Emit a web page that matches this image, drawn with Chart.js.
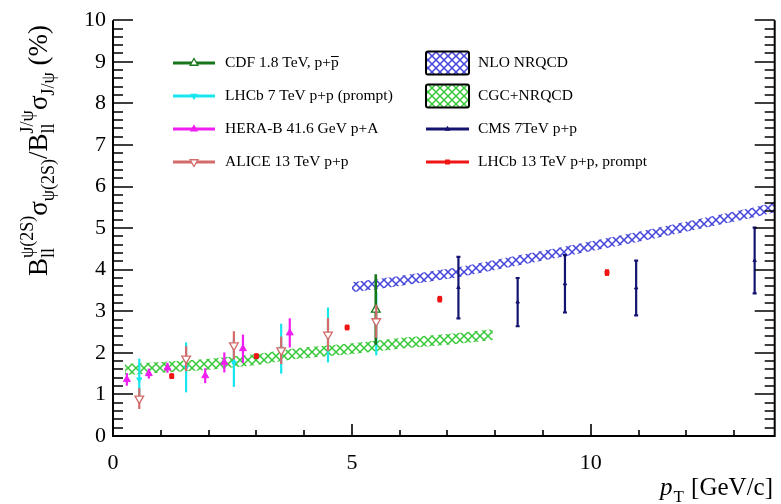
<!DOCTYPE html>
<html><head><meta charset="utf-8">
<script src="https://cdn.jsdelivr.net/npm/chart.js@4/dist/chart.umd.min.js"></script>
<style>html,body{margin:0;padding:0;background:#fff;}#wrap{width:781px;height:504px;}</style>
</head><body><div id="wrap"><canvas id="c" width="781" height="504"></canvas></div>
<script>
// ---- data ----
const xTickLabels = [0, 5, 10];
const yTickLabels = [0, 1, 2, 3, 4, 5, 6, 7, 8, 9, 10];

const cdfX = [5.5];
const cdfY = [3.04];
const cdfErr = [0.85];

const lhcb7X = [0.55, 1.53, 2.53, 3.52, 4.5, 5.51];
const lhcb7Y = [1.36, 1.65, 1.76, 2.1, 2.43, 2.7];
const lhcb7Err = [0.5, 0.6, 0.58, 0.6, 0.66, 0.76];

const heraX = [0.29, 0.75, 1.14, 1.93, 2.33, 2.72, 3.70];
const heraY = [1.36, 1.50, 1.64, 1.45, 1.77, 2.10, 2.48];
const heraErr = [0.15, 0.12, 0.12, 0.18, 0.24, 0.34, 0.35];

const aliceX = [0.55, 1.53, 2.53, 3.52, 4.5, 5.51];
const aliceY = [0.9, 1.86, 2.18, 2.06, 2.44, 2.76];
const aliceErr = [0.25, 0.3, 0.34, 0.33, 0.4, 0.4];

const cmsX = [7.23, 8.47, 9.46, 10.95, 13.43];
const cmsY = [3.57, 3.22, 3.66, 3.56, 4.22];
const cmsErr = [0.74, 0.58, 0.69, 0.66, 0.79];

const lhcb13X = [1.23, 3.0, 4.9, 6.84, 10.34];
const lhcb13Y = [1.44, 1.92, 2.61, 3.29, 3.93];
const lhcb13Err = [0.07, 0.07, 0.07, 0.08, 0.08];

const nloX = [5.0, 5.82, 7.23, 8.47, 9.46, 10.95, 13.43, 13.85];
const nloLow = [3.46, 3.58, 3.82, 4.10, 4.32, 4.66, 5.26, 5.38];
const nloHigh = [3.70, 3.82, 4.06, 4.34, 4.56, 4.90, 5.50, 5.62];

const cgcX = [0.25, 0.99, 1.97, 3.02, 3.82, 5.01, 6.1, 7.08, 7.95];
const cgcLow = [1.47, 1.52, 1.59, 1.71, 1.85, 1.97, 2.11, 2.20, 2.31];
const cgcHigh = [1.73, 1.78, 1.85, 1.97, 2.11, 2.23, 2.37, 2.46, 2.57];

const legendLeft = ['CDF 1.8 TeV, p+p', 'LHCb 7 TeV p+p (prompt)', 'HERA-B 41.6 GeV p+A', 'ALICE 13 TeV p+p'];
const legendRight = ['NLO NRQCD', 'CGC+NRQCD', 'CMS 7TeV p+p', 'LHCb 13 TeV p+p, prompt'];

// ---- colours ----
const C_CDF = '#16761a', C_LHCB7 = '#19e6ee', C_HERA = '#f01ef0', C_ALICE = '#d46a6a',
      C_CMS = '#141470', C_LHCB13 = '#f01414', C_NLO = '#4444d8', C_CGC = '#36c836';

function hatch(color) {
  const c = document.createElement('canvas'); c.width = 8; c.height = 8;
  const g = c.getContext('2d'); g.strokeStyle = color; g.lineWidth = 1.5;
  g.beginPath(); g.moveTo(0, 0); g.lineTo(8, 8); g.moveTo(8, 0); g.lineTo(0, 8); g.stroke();
  return g.createPattern(c, 'repeat');
}
const P_NLO = hatch(C_NLO), P_CGC = hatch(C_CGC);

const pts = (xs, ys) => xs.map((x, i) => ({x, y: ys[i]}));

function pointSet(label, xs, ys, err, color, style, r, rot, open, ew, cap, order) {
  return {type: 'scatter', label, data: pts(xs, ys), err, errColor: color, errWidth: ew, cap: cap || 0,
    showLine: false, pointStyle: style, pointRadius: r, pointRotation: rot,
    pointBackgroundColor: open ? '#ffffff' : color, pointBorderColor: color, pointBorderWidth: open ? 1.3 : 1,
    borderColor: color, backgroundColor: color, order};
}

const datasets = [
  pointSet('LHCb 13', lhcb13X, lhcb13Y, lhcb13Err, C_LHCB13, 'rect', 2.8, 0, false, 4, 0, 1),
  pointSet('CMS', cmsX, cmsY, cmsErr, C_CMS, 'triangle', 2, 0, false, 2.2, 2, 2),
  pointSet('ALICE', aliceX, aliceY, aliceErr, C_ALICE, 'triangle', 5, 180, true, 2.2, 0, 3),
  pointSet('CDF', cdfX, cdfY, cdfErr, C_CDF, 'triangle', 5, 0, true, 2.6, 0, 4),
  pointSet('HERA-B', heraX, heraY, heraErr, C_HERA, 'triangle', 4, 0, false, 2.2, 0, 5),
  pointSet('LHCb 7', lhcb7X, lhcb7Y, lhcb7Err, C_LHCB7, 'triangle', 3, 180, false, 2.2, 0, 6),
  {type: 'line', label: 'nloLow', data: pts(nloX, nloLow), borderWidth: 0, pointRadius: 0, fill: false, order: 10, borderColor: 'rgba(0,0,0,0)'},
  {type: 'line', label: 'nloHigh', data: pts(nloX, nloHigh), borderWidth: 0, pointRadius: 0, fill: '-1', backgroundColor: P_NLO, order: 10, borderColor: 'rgba(0,0,0,0)'},
  {type: 'line', label: 'cgcLow', data: pts(cgcX, cgcLow), borderWidth: 0, pointRadius: 0, fill: false, order: 11, borderColor: 'rgba(0,0,0,0)'},
  {type: 'line', label: 'cgcHigh', data: pts(cgcX, cgcHigh), borderWidth: 0, pointRadius: 0, fill: '-1', backgroundColor: P_CGC, order: 11, borderColor: 'rgba(0,0,0,0)'}
];

const errPlugin = {
  id: 'errbars',
  beforeDatasetDraw(chart, args) {
    const ds = chart.data.datasets[args.index];
    if (!ds.err) return;
    const xs = chart.scales.x, ys = chart.scales.y, ctx = chart.ctx;
    ctx.save();
    ctx.strokeStyle = ds.errColor; ctx.lineWidth = ds.errWidth;
    ds.data.forEach((p, i) => {
      const e = ds.err[i];
      const px = xs.getPixelForValue(p.x);
      const y1 = ys.getPixelForValue(p.y - e), y2 = ys.getPixelForValue(p.y + e);
      ctx.beginPath(); ctx.moveTo(px, y1); ctx.lineTo(px, y2); ctx.stroke();
      if (ds.cap) {
        ctx.beginPath();
        ctx.moveTo(px - ds.cap, y1); ctx.lineTo(px + ds.cap, y1);
        ctx.moveTo(px - ds.cap, y2); ctx.lineTo(px + ds.cap, y2);
        ctx.stroke();
      }
    });
    ctx.restore();
  }
};

const framePlugin = {
  id: 'frame',
  afterDraw(chart) {
    const ctx = chart.ctx, a = chart.chartArea, xs = chart.scales.x, ys = chart.scales.y;
    ctx.save();
    ctx.strokeStyle = '#000'; ctx.lineWidth = 2;
    ctx.beginPath();
    ctx.moveTo(a.left, a.top); ctx.lineTo(a.left, a.bottom); ctx.lineTo(a.right, a.bottom); ctx.lineTo(a.right, a.top);
    ctx.stroke();
    ctx.lineWidth = 1.6;
    ctx.beginPath();
    for (let v = 0; v <= 10.001; v += 0.2) {
      const major = Math.abs(v - Math.round(v)) < 1e-6;
      const L = major ? 20 : 10;
      const py = Math.round(ys.getPixelForValue(v));
      ctx.moveTo(a.left, py); ctx.lineTo(a.left + L, py);
      ctx.moveTo(a.right, py); ctx.lineTo(a.right - L, py);
    }
    for (let v = 0; v <= 13.85; v += 1) {
      const major = v % 5 === 0;
      const L = major ? 12 : 6;
      const px = Math.round(xs.getPixelForValue(v));
      ctx.moveTo(px, a.bottom); ctx.lineTo(px, a.bottom - L);
    }
    ctx.stroke();

    // y title
    ctx.fillStyle = '#000';
    ctx.save();
    ctx.translate(47, 276); ctx.rotate(-Math.PI / 2);
    ctx.textBaseline = 'alphabetic'; ctx.textAlign = 'left';
    const M = '27px "Liberation Serif"', S = '18px "Liberation Serif"';
    let x = 0;
    const main = t => { ctx.font = M; ctx.fillText(t, x, 0); x += ctx.measureText(t).width; };
    const sub = t => { ctx.font = S; ctx.fillText(t, x, 7); x += ctx.measureText(t).width; };
    const pair = (lo, hi) => { ctx.font = S; ctx.fillText(lo, x, 7); ctx.fillText(hi, x, -14);
      x += Math.max(ctx.measureText(lo).width, ctx.measureText(hi).width); };
    main('B'); pair('ll', 'ψ(2S)'); main('σ'); sub('ψ(2S)'); main('/B'); pair('ll', 'J/ψ');
    main('σ'); sub('J/ψ'); main(' (%)');
    ctx.restore();

    // x title
    ctx.save();
    ctx.textBaseline = 'alphabetic'; ctx.textAlign = 'left';
    const F1 = 'italic 25px "Liberation Serif"', F2 = '17px "Liberation Serif"', F3 = '25px "Liberation Serif"';
    ctx.font = F1; const w1 = ctx.measureText('p').width;
    ctx.font = F2; const w2 = ctx.measureText('T').width;
    ctx.font = F3; const w3 = ctx.measureText(' [GeV/c]').width;
    let sx = 773 - (w1 + w2 + 2 + w3);
    ctx.font = F1; ctx.fillText('p', sx, 495); sx += w1 + 1;
    ctx.font = F2; ctx.fillText('T', sx, 502); sx += w2 + 1;
    ctx.font = F3; ctx.fillText(' [GeV/c]', sx, 495);
    ctx.restore();

    // legend
    const rows = [63, 96, 129, 162];
    const drawPt = (style, r, rot, fill, stroke, x0, y0) => {
      ctx.fillStyle = fill; ctx.strokeStyle = stroke; ctx.lineWidth = 1.3;
      Chart.helpers.drawPoint(ctx, {pointStyle: style, radius: r, rotation: rot, borderWidth: 1.3}, x0, y0);
    };
    const leftMarks = [
      [C_CDF, 'triangle', 4.5, 0, true], [C_LHCB7, 'triangle', 3, 180, false],
      [C_HERA, 'triangle', 3.5, 0, false], [C_ALICE, 'triangle', 4.5, 180, true]];
    ctx.font = '15.5px "Liberation Serif"'; ctx.textBaseline = 'middle';
    legendLeft.forEach((t, i) => {
      const [col, st, r, rot, open] = leftMarks[i];
      const y0 = rows[i];
      ctx.strokeStyle = col; ctx.lineWidth = 3;
      ctx.beginPath(); ctx.moveTo(173, y0); ctx.lineTo(215, y0); ctx.stroke();
      drawPt(st, r, rot, open ? '#fff' : col, col, 194, y0);
      ctx.fillStyle = '#000'; ctx.font = '15.5px "Liberation Serif"';
      ctx.fillText(t, 225, y0);
      if (i === 0) {
        const wAll = ctx.measureText(t).width, wp = ctx.measureText('p').width;
        ctx.strokeStyle = '#000'; ctx.lineWidth = 1;
        ctx.beginPath(); ctx.moveTo(225 + wAll - wp, y0 - 6.5); ctx.lineTo(225 + wAll, y0 - 6.5); ctx.stroke();
      }
    });
    // right column
    [[P_NLO, 0], [P_CGC, 1]].forEach(([pat, i]) => {
      const y0 = rows[i];
      ctx.fillStyle = '#fff'; ctx.fillRect(426, y0 - 11.5, 43, 23);
      ctx.fillStyle = pat; ctx.fillRect(426, y0 - 11.5, 43, 23);
      ctx.strokeStyle = '#000'; ctx.lineWidth = 2;
      ctx.beginPath(); ctx.roundRect(426, y0 - 11.5, 43, 23, 2); ctx.stroke();
    });
    ctx.strokeStyle = C_CMS; ctx.lineWidth = 3;
    ctx.beginPath(); ctx.moveTo(426, rows[2]); ctx.lineTo(469, rows[2]); ctx.stroke();
    drawPt('triangle', 2, 0, C_CMS, C_CMS, 447.5, rows[2]);
    ctx.strokeStyle = C_LHCB13; ctx.lineWidth = 3;
    ctx.beginPath(); ctx.moveTo(426, rows[3]); ctx.lineTo(469, rows[3]); ctx.stroke();
    drawPt('rect', 2.5, 0, C_LHCB13, C_LHCB13, 447.5, rows[3]);
    ctx.fillStyle = '#000'; ctx.font = '15.5px "Liberation Serif"'; ctx.textBaseline = 'middle';
    legendRight.forEach((t, i) => ctx.fillText(t, 478, rows[i]));
    ctx.restore();
  }
};

new Chart(document.getElementById('c'), {
  type: 'scatter',
  data: {datasets},
  options: {
    responsive: false, animation: false, devicePixelRatio: 1,
    layout: {padding: {top: 19, right: 6, left: 0, bottom: 0}},
    plugins: {legend: {display: false}, tooltip: {enabled: false}},
    elements: {line: {tension: 0}},
    scales: {
      x: {type: 'linear', min: 0, max: 13.85,
        grid: {display: false, drawTicks: false}, border: {display: false},
        afterBuildTicks: s => { s.ticks = xTickLabels.map(v => ({value: v})); },
        afterFit: s => { s.height = 68; },
        ticks: {font: {family: 'Liberation Serif', size: 22}, color: '#000', padding: 14, maxRotation: 0, autoSkip: false}},
      y: {type: 'linear', min: 0, max: 10,
        grid: {display: false, drawTicks: false}, border: {display: false},
        afterBuildTicks: s => { s.ticks = yTickLabels.map(v => ({value: v})); },
        afterFit: s => { s.width = 113; },
        ticks: {font: {family: 'Liberation Serif', size: 22}, color: '#000', padding: 7, autoSkip: false}}
    }
  },
  plugins: [errPlugin, framePlugin]
});
</script>
</body></html>
